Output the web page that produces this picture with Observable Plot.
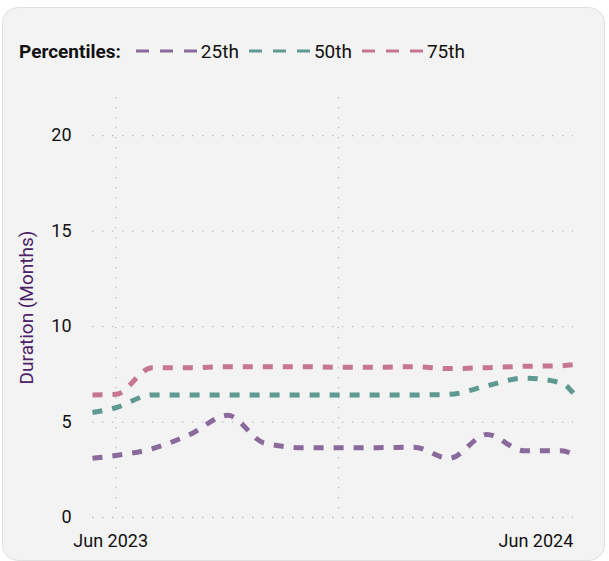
<!DOCTYPE html>
<html>
<head>
<meta charset="utf-8">
<script src="https://cdn.jsdelivr.net/npm/d3@7"></script>
<script src="https://cdn.jsdelivr.net/npm/@observablehq/plot@0.6"></script>
<style>
  html, body { margin: 0; padding: 0; background: #ffffff; width: 609px; height: 561px; overflow: hidden; font-family: Roboto, "DejaVu Sans", sans-serif; }
  #card { position: absolute; left: 2px; top: 7px; width: 601px; height: 552px; background: #f3f3f3; border: 1.5px solid #e0e0e0; border-radius: 16px; }
  #legend { position: absolute; left: 19px; top: 38px; height: 26px; display: flex; align-items: center; font-size: 19px; color: #111; }
  #legend .title { font-weight: bold; margin-right: 15px; }
  #legend .item { display: flex; align-items: center; margin-right: 10px; }
  #legend svg { display: block; margin-right: 3px; }
  #chart { position: absolute; left: 0; top: 80px; }
</style>
</head>
<body>
<div id="card"></div>
<div id="legend"></div>
<div id="chart"></div>
<script>
// Data
const dates = ["2023-05-13","2023-06-01","2023-07-01","2023-08-01","2023-09-01","2023-10-01","2023-11-01","2023-12-01","2024-01-01","2024-02-01","2024-03-01","2024-04-01","2024-05-01","2024-06-01","2024-06-11"];
const p25 = [3.1, 3.25, 3.6, 4.35, 5.35, 3.9, 3.66, 3.66, 3.66, 3.68, 3.1, 4.35, 3.5, 3.5, 3.3];
const p50 = [5.5, 5.75, 6.42, 6.42, 6.42, 6.42, 6.42, 6.42, 6.42, 6.42, 6.45, 6.9, 7.3, 7.05, 6.5];
const p75 = [6.42, 6.45, 7.85, 7.85, 7.9, 7.9, 7.9, 7.87, 7.87, 7.9, 7.8, 7.85, 7.92, 7.95, 8.0];
const seriesNames = ["25th", "50th", "75th"];
const seriesColors = ["#8a6a9c", "#5f9a90", "#c6778f"];
const yTicks = [0, 5, 10, 15, 20];
const xGridDates = ["2023-06-01", "2023-12-01"];
const xLabelDates = ["2023-06-01", "2024-06-01"];
const yTitle = "Duration (Months)";
const legendTitle = "Percentiles:";

const parse = s => new Date(s + "T00:00:00Z");
const values = [p25, p50, p75];
const rows = [];
seriesNames.forEach((name, i) => {
  dates.forEach((d, j) => rows.push({date: parse(d), value: values[i][j], series: name}));
});

// Legend
const legend = document.getElementById("legend");
const lt = document.createElement("span");
lt.className = "title";
lt.textContent = legendTitle;
legend.appendChild(lt);
seriesNames.forEach((name, i) => {
  const item = document.createElement("span");
  item.className = "item";
  item.innerHTML = `<svg width="62" height="6"><line x1="0" y1="3" x2="62" y2="3" stroke="${seriesColors[i]}" stroke-width="3" stroke-dasharray="13,11"/></svg><span>${name}</span>`;
  legend.appendChild(item);
});

const fmt = d3.utcFormat("%b %Y");
const chart = Plot.plot({
  width: 609,
  height: 481,
  marginLeft: 92,
  marginRight: 36,
  marginTop: 17,
  marginBottom: 44,
  style: {fontFamily: "Roboto, sans-serif", fontSize: "18px", background: "transparent", color: "#111"},
  x: {type: "utc", domain: [parse(dates[0]), parse(dates[dates.length - 1])]},
  y: {domain: [0, 22]},
  color: {domain: seriesNames, range: seriesColors},
  marks: [
    Plot.gridY(yTicks, {stroke: "#bdbdbd", strokeOpacity: 1, strokeWidth: 1.3, strokeDasharray: "1.3,8.7"}),
    Plot.gridX(xGridDates.map(parse), {stroke: "#bdbdbd", strokeOpacity: 1, strokeWidth: 1.3, strokeDasharray: "1.3,8.7"}),
    Plot.axisY(yTicks, {tickSize: 0, tickPadding: 21, fill: "#111", fontSize: 18, label: null}),
    Plot.axisX([parse(xLabelDates[0])], {tickSize: 0, tickPadding: 17, fill: "#111", fontSize: 18, tickFormat: fmt, dx: -5, label: null}),
    Plot.axisX([parse(xLabelDates[1])], {tickSize: 0, tickPadding: 17, fill: "#111", fontSize: 18, tickFormat: fmt, textAnchor: "end", dx: 12, label: null}),
    Plot.text([yTitle], {frameAnchor: "left", textAnchor: "middle", rotate: -90, dx: -66, fill: "#4b2168", fontSize: 19}),
    Plot.line(rows, {x: "date", y: "value", z: "series", stroke: "series", strokeWidth: 5, strokeDasharray: "10,10", curve: "monotone-x", strokeLinecap: "butt"})
  ]
});
document.getElementById("chart").appendChild(chart);
</script>
</body>
</html>
